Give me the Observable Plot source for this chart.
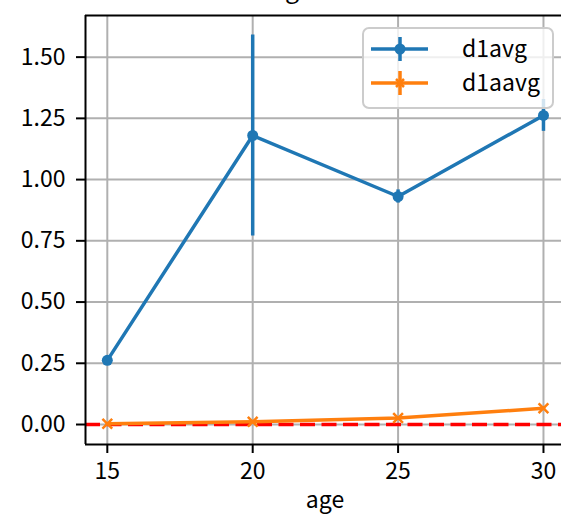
<!DOCTYPE html>
<html>
<head>
<meta charset="utf-8">
<script src="https://cdn.jsdelivr.net/npm/d3@7"></script>
<script src="https://cdn.jsdelivr.net/npm/@observablehq/plot@0.6"></script>
<style>
  html, body { margin: 0; padding: 0; background: #fff; overflow: hidden; }
</style>
</head>
<body>
<div id="chart"></div>
<script>
// ---- data ----
const ages = [15, 20, 25, 30];
const d1avg = [0.262, 1.180, 0.931, 1.262];
const d1avgErr = [0.006, 0.410, 0.027, 0.065];
const d1aavg = [0.003, 0.011, 0.027, 0.066];
const d1aavgErr = [0.002, 0.003, 0.004, 0.005];
const yTicks = [0, 0.25, 0.5, 0.75, 1.0, 1.25, 1.5];
const seriesNames = ["d1avg", "d1aavg"];
const seriesColors = ["#1f77b4", "#ff7f0e"];
const titleText = "avg";
const xLabel = "age";

const rowsA = ages.map((a, i) => ({age: a, v: d1avg[i], lo: d1avg[i] - d1avgErr[i], hi: d1avg[i] + d1avgErr[i]}));
const rowsB = ages.map((a, i) => ({age: a, v: d1aavg[i], lo: d1aavg[i] - d1aavgErr[i], hi: d1aavg[i] + d1aavgErr[i]}));

const W = 561, H = 518;
const xDomain = [14.25, 30.62];
const yDomain = [-0.0816, 1.670];
const FONT = "'Noto Sans CJK JP', 'Noto Sans', sans-serif";

const plot = Plot.plot({
  width: W,
  height: H,
  marginLeft: 85,
  marginRight: 0,
  marginTop: 15,
  marginBottom: 74,
  style: {fontFamily: FONT, fontSize: "23px", background: "#fff", color: "#000", overflow: "visible"},
  x: {domain: xDomain},
  y: {domain: yDomain},
  marks: [
    // grid
    Plot.ruleX(ages, {stroke: "#b0b0b0", strokeWidth: 2}),
    Plot.ruleY(yTicks, {stroke: "#b0b0b0", strokeWidth: 2}),
    // red dashed zero line
    Plot.ruleY([0], {stroke: "#ff0000", strokeWidth: 3.5, strokeDasharray: "15,6.5"}),
    // d1avg
    Plot.line(rowsA, {x: "age", y: "v", stroke: seriesColors[0], strokeWidth: 3.5}),
    Plot.ruleX(rowsA, {x: "age", y1: "lo", y2: "hi", stroke: seriesColors[0], strokeWidth: 3.5}),
    Plot.dot(rowsA, {x: "age", y: "v", r: 5.5, fill: seriesColors[0], stroke: "none"}),
    // d1aavg
    Plot.line(rowsB, {x: "age", y: "v", stroke: seriesColors[1], strokeWidth: 3.5}),
    Plot.ruleX(rowsB, {x: "age", y1: "lo", y2: "hi", stroke: seriesColors[1], strokeWidth: 3.5}),
    Plot.dot(rowsB, {x: "age", y: "v", symbol: "times", r: 4.5, stroke: seriesColors[1], strokeWidth: 2.5}),
    // frame (left, top, bottom; right side lies outside the image)
    Plot.ruleX([xDomain[0]], {stroke: "#000", strokeWidth: 2}),
    Plot.ruleY([yDomain[0]], {stroke: "#000", strokeWidth: 2}),
    Plot.ruleY([yDomain[1]], {stroke: "#000", strokeWidth: 2}),
    // axes
    Plot.axisX({ticks: ages, tickSize: 9, tickPadding: 9, tickFormat: d3.format("d"), label: null, strokeWidth: 2}),
    Plot.axisY({ticks: yTicks, tickSize: 9, tickPadding: 11, tickFormat: d3.format(".2f"), label: null, strokeWidth: 2})
  ]
});

document.getElementById("chart").appendChild(plot);

const svg = d3.select(plot);

// title (cut off at the top of the image, as in the reference)
svg.append("text").attr("x", 299).attr("y", -2).attr("text-anchor", "end")
  .style("font-family", FONT).style("font-size", "25px").attr("fill", "#000").text(titleText);

// x axis label
svg.append("text").attr("x", 325).attr("y", 508).attr("text-anchor", "middle")
  .style("font-family", FONT).style("font-size", "23px").attr("fill", "#000").text(xLabel);

// legend
const lg = svg.append("g");
lg.append("rect").attr("x", 363).attr("y", 28).attr("width", 190).attr("height", 80).attr("rx", 6)
  .attr("fill", "#fff").attr("fill-opacity", 0.8).attr("stroke", "#cccccc").attr("stroke-width", 2);
const rowY = [49, 83];
seriesNames.forEach((name, i) => {
  const y = rowY[i], c = seriesColors[i];
  lg.append("line").attr("x1", 371).attr("x2", 428).attr("y1", y).attr("y2", y).attr("stroke", c).attr("stroke-width", 3.5);
  lg.append("line").attr("x1", 400).attr("x2", 400).attr("y1", y - 12).attr("y2", y + 12).attr("stroke", c).attr("stroke-width", 3.5);
  if (i === 0) {
    lg.append("circle").attr("cx", 400).attr("cy", y).attr("r", 5.5).attr("fill", c);
  } else {
    lg.append("path").attr("d", `M${396},${y-4}L${404},${y+4}M${396},${y+4}L${404},${y-4}`).attr("stroke", c).attr("stroke-width", 2.5);
  }
  lg.append("text").attr("x", 462).attr("y", y + 8).attr("text-anchor", "start")
    .style("font-family", FONT).style("font-size", "23px").attr("fill", "#000").text(name);
});
</script>
</body>
</html>
